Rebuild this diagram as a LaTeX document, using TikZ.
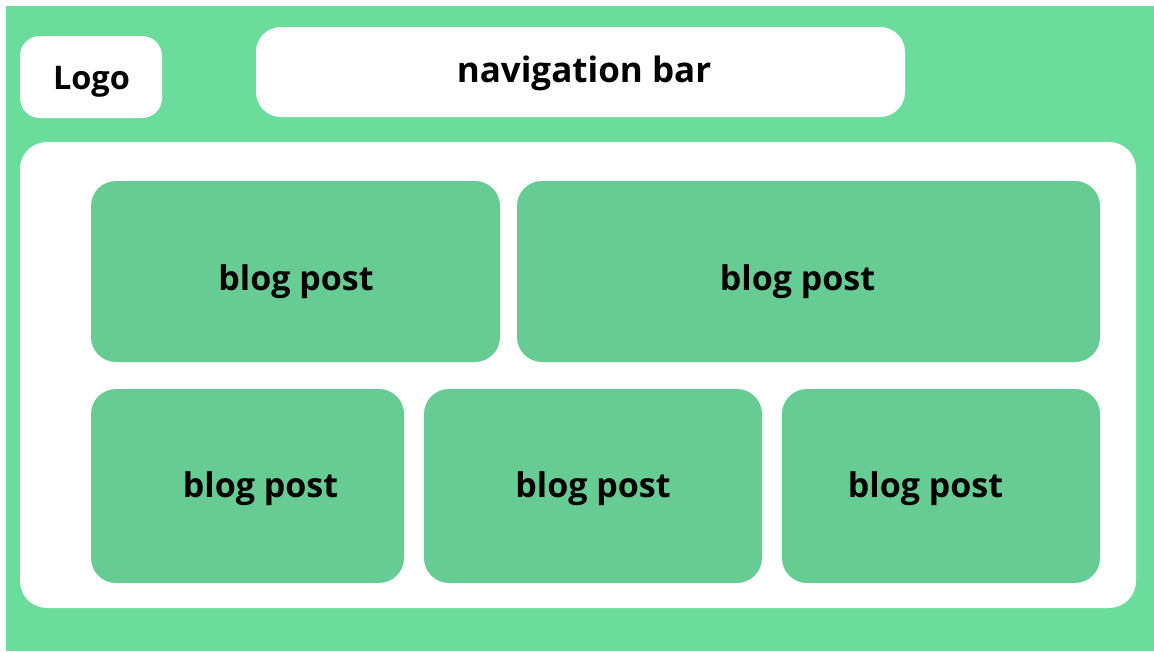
\documentclass[tikz,border=0pt]{standalone}
\usepackage{fontspec}
\setmainfont{Open Sans}
\definecolor{bggreen}{HTML}{6CDC9D}
\definecolor{postgreen}{HTML}{67CC94}
\begin{document}
\begin{tikzpicture}[x=1pt,y=-1pt,
  panel/.style={fill=white, draw=none, rounded corners=#1, inner sep=0pt, outer sep=0pt},
  post/.style={fill=postgreen, draw=none, rounded corners=25pt, inner sep=0pt, outer sep=0pt},
  lbl/.style={inner sep=0pt, anchor=base, text=black, font=\fontsize{34}{40}\selectfont\bfseries}]
\useasboundingbox (0,0) rectangle (1154,651);
\fill[bggreen] (6,6) rectangle (1154,651);
% header
\node[panel=20pt, minimum width=142pt, minimum height=82pt] (logo) at (91,77) {};
\node[panel=25pt, minimum width=649pt, minimum height=90pt] (nav) at (580.5,72) {};
\node[lbl, font=\fontsize{32.5}{40}\selectfont\bfseries] (tlogo) at (91.5,89) {Logo};
\node[lbl, font=\fontsize{35}{40}\selectfont\bfseries] (tnav) at (584,82) {navigation bar};
% main area
\node[panel=27pt, minimum width=1116pt, minimum height=466pt] (main) at (578,375) {};
% row 1
\node[post, minimum width=409pt, minimum height=181pt] (p1) at (295.5,271.5) {};
\node[post, minimum width=583pt, minimum height=181pt] (p2) at (808.5,271.5) {};
% row 2
\node[post, minimum width=313pt, minimum height=194pt] (p3) at (247.5,486) {};
\node[post, minimum width=338pt, minimum height=194pt] (p4) at (593,486) {};
\node[post, minimum width=318pt, minimum height=194pt] (p5) at (941,486) {};
\node[lbl] (t1) at (296,290) {blog post};
\node[lbl] (t2) at (797.5,290) {blog post};
\node[lbl] (t3) at (260.5,497) {blog post};
\node[lbl] (t4) at (593,497) {blog post};
\node[lbl] (t5) at (925.5,497) {blog post};
\end{tikzpicture}
\end{document}
